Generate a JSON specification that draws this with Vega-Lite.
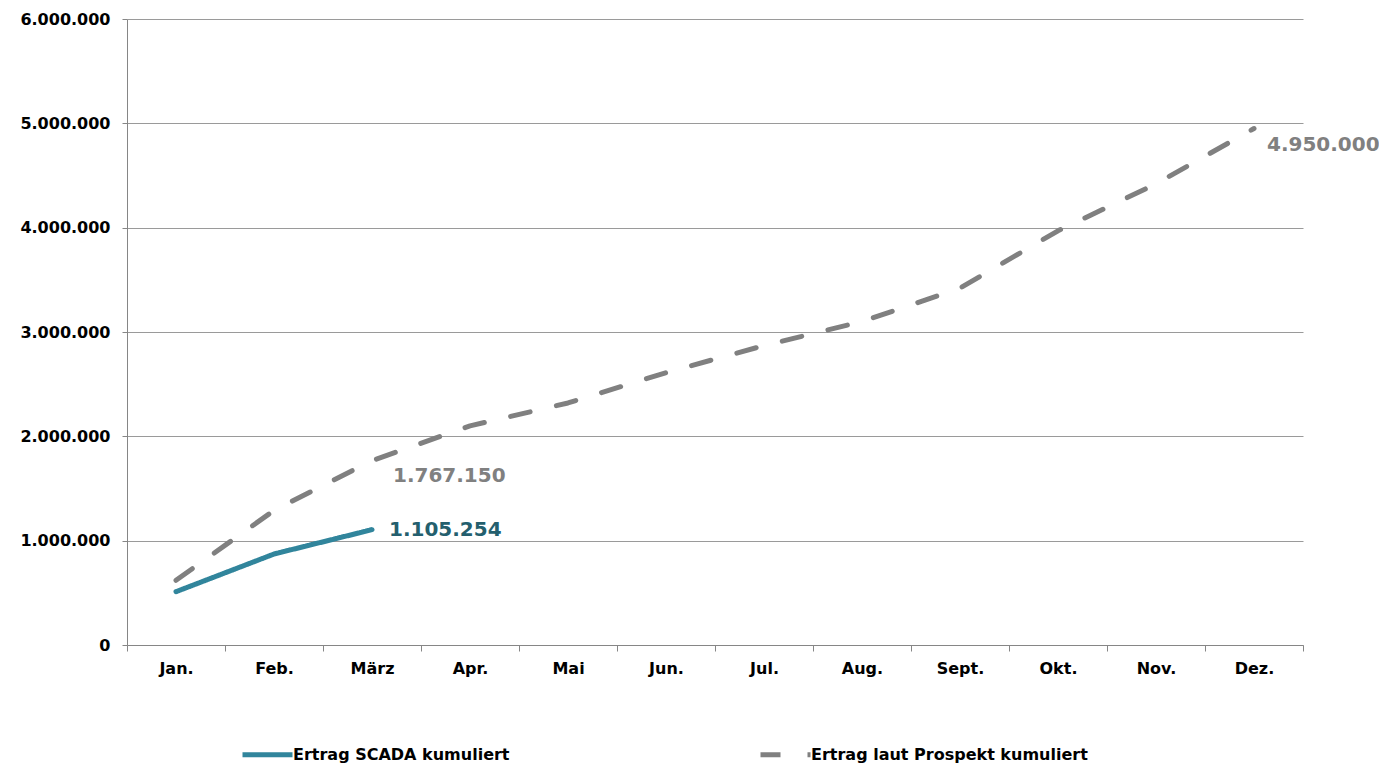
{
  "$schema": "https://vega.github.io/schema/vega-lite/v6.json",
  "width": 1176,
  "height": 626,
  "autosize": {"type": "none"},
  "padding": {"left": 127, "top": 19, "right": 76, "bottom": 122},
  "background": "white",
  "config": {
    "locale": {"number": {"decimal": ",", "thousands": ".", "grouping": [3], "currency": ["", " €"]}},
    "view": {"stroke": null},
    "font": "DejaVu Sans"
  },
  "data": {
    "values": [
      {"month": "Jan.", "series": "Ertrag SCADA kumuliert", "value": 511000},
      {"month": "Feb.", "series": "Ertrag SCADA kumuliert", "value": 872000},
      {"month": "März", "series": "Ertrag SCADA kumuliert", "value": 1105254},
      {"month": "Jan.", "series": "Ertrag laut Prospekt kumuliert", "value": 620000},
      {"month": "Feb.", "series": "Ertrag laut Prospekt kumuliert", "value": 1290000},
      {"month": "März", "series": "Ertrag laut Prospekt kumuliert", "value": 1767150},
      {"month": "Apr.", "series": "Ertrag laut Prospekt kumuliert", "value": 2100000},
      {"month": "Mai", "series": "Ertrag laut Prospekt kumuliert", "value": 2320000},
      {"month": "Jun.", "series": "Ertrag laut Prospekt kumuliert", "value": 2610000},
      {"month": "Jul.", "series": "Ertrag laut Prospekt kumuliert", "value": 2870000},
      {"month": "Aug.", "series": "Ertrag laut Prospekt kumuliert", "value": 3100000},
      {"month": "Sept.", "series": "Ertrag laut Prospekt kumuliert", "value": 3420000},
      {"month": "Okt.", "series": "Ertrag laut Prospekt kumuliert", "value": 3970000},
      {"month": "Nov.", "series": "Ertrag laut Prospekt kumuliert", "value": 4420000},
      {"month": "Dez.", "series": "Ertrag laut Prospekt kumuliert", "value": 4950000}
    ]
  },
  "encoding": {
    "x": {
      "field": "month",
      "type": "ordinal",
      "sort": ["Jan.", "Feb.", "März", "Apr.", "Mai", "Jun.", "Jul.", "Aug.", "Sept.", "Okt.", "Nov.", "Dez."],
      "scale": {"paddingInner": 0, "paddingOuter": 0},
      "axis": {
        "title": null,
        "labelAngle": 0,
        "labelFont": "DejaVu Sans",
        "labelFontWeight": "bold",
        "labelFontSize": 16,
        "labelColor": "#000000",
        "labelPadding": 9,
        "domainColor": "#868686",
        "domainWidth": 1,
        "tickColor": "#868686",
        "tickSize": 6,
        "tickBand": "extent",
        "grid": false
      }
    },
    "y": {
      "field": "value",
      "type": "quantitative",
      "scale": {"domain": [0, 6000000], "nice": false},
      "axis": {
        "title": null,
        "values": [0, 1000000, 2000000, 3000000, 4000000, 5000000, 6000000],
        "format": ",.0f",
        "labelFont": "DejaVu Sans",
        "labelFontWeight": "bold",
        "labelFontSize": 16,
        "labelColor": "#000000",
        "labelPadding": 12,
        "domainColor": "#868686",
        "tickColor": "#868686",
        "tickSize": 5,
        "grid": true,
        "gridColor": "#9a9a9a",
        "gridWidth": 1
      }
    }
  },
  "layer": [
    {
      "mark": {"type": "line", "strokeWidth": 5, "strokeCap": "round", "strokeJoin": "round"},
      "encoding": {
        "color": {
          "field": "series",
          "type": "nominal",
          "scale": {"domain": ["Ertrag SCADA kumuliert", "Ertrag laut Prospekt kumuliert"], "range": ["#31859C", "#808080"]},
          "legend": {
            "title": null,
            "orient": "none",
            "legendX": 113,
            "legendY": 708,
            "direction": "horizontal",
            "symbolType": "stroke",
            "symbolSize": 2500,
            "symbolStrokeWidth": 5,
            "labelFont": "DejaVu Sans",
            "labelFontWeight": "bold",
            "labelFontSize": 16,
            "labelColor": "#000000",
            "labelOffset": -2,
            "columnPadding": 240,
            "labelLimit": 400
          }
        },
        "strokeDash": {
          "field": "series",
          "type": "nominal",
          "scale": {"domain": ["Ertrag SCADA kumuliert", "Ertrag laut Prospekt kumuliert"], "range": [[1, 0], [20, 27]]},
          "legend": null
        }
      }
    },
    {
      "transform": [{"filter": "datum.series == 'Ertrag laut Prospekt kumuliert' && datum.month == 'März'"}],
      "mark": {"type": "text", "align": "left", "baseline": "middle", "dx": 21, "dy": 15, "font": "DejaVu Sans", "fontWeight": "bold", "fontSize": 20, "color": "#808080"},
      "encoding": {"text": {"field": "value", "type": "quantitative", "format": ",.0f"}}
    },
    {
      "transform": [{"filter": "datum.series == 'Ertrag SCADA kumuliert' && datum.month == 'März'"}],
      "mark": {"type": "text", "align": "left", "baseline": "middle", "dx": 17, "dy": 0, "font": "DejaVu Sans", "fontWeight": "bold", "fontSize": 20, "color": "#245F6E"},
      "encoding": {"text": {"field": "value", "type": "quantitative", "format": ",.0f"}}
    },
    {
      "transform": [{"filter": "datum.series == 'Ertrag laut Prospekt kumuliert' && datum.month == 'Dez.'"}],
      "mark": {"type": "text", "align": "left", "baseline": "middle", "dx": 13, "dy": 16, "font": "DejaVu Sans", "fontWeight": "bold", "fontSize": 20, "color": "#808080"},
      "encoding": {"text": {"field": "value", "type": "quantitative", "format": ",.0f"}}
    }
  ]
}
